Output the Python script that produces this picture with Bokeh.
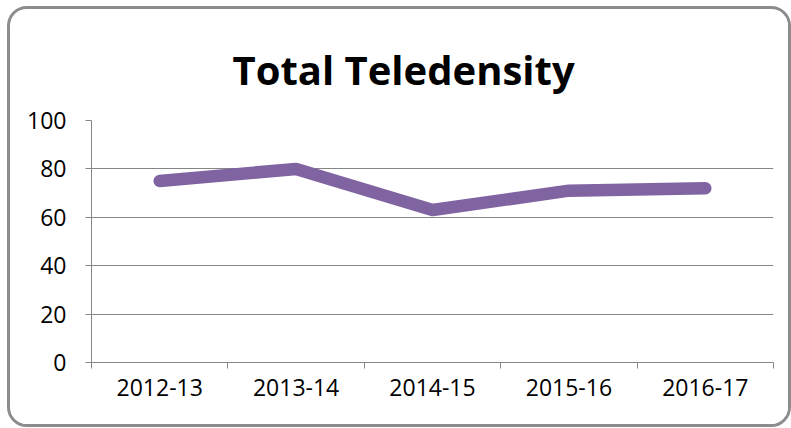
from bokeh.plotting import figure
from bokeh.models import Range1d, LinearAxis, FixedTicker, Title, Grid
from bokeh.embed import file_html
from bokeh.resources import INLINE

# ---- data ----
categories = ["2012-13", "2013-14", "2014-15", "2015-16", "2016-17"]
teledensity = [75, 80, 63, 71, 72]
y_ticks = [0, 20, 40, 60, 80, 100]
title_text = "Total Teledensity"

FONT = "Open Sans"
GRAY = "#868686"
PURPLE = "#8064A2"

n = len(categories)
xs = [i + 0.5 for i in range(n)]
boundaries = list(range(n + 1))

p = figure(width=784, height=421, output_backend="svg", toolbar_location=None,
           x_range=Range1d(0, n), y_range=Range1d(0, 100),
           x_axis_type=None, y_axis_type=None,
           min_border_left=81, min_border_right=21, min_border_top=111,
           min_border_bottom=68)
p.margin = (6, 0, 0, 7)
p.outline_line_color = None
p.background_fill_color = "white"
p.border_fill_color = "white"
p.styles = {"border": "3px solid #8c8c8c", "border-radius": "20px",
            "overflow": "hidden"}

# title
p.title = Title(text=title_text, text_font=FONT, text_font_size="40px",
                text_font_style="bold", text_color="black", align="left",
                standoff=48, offset=141)

# y axis
yax = LinearAxis(ticker=FixedTicker(ticks=y_ticks))
yax.axis_line_color = GRAY
yax.major_tick_line_color = GRAY
yax.major_tick_out = 6
yax.major_tick_in = 0
yax.minor_tick_line_color = None
yax.major_label_text_font = FONT
yax.major_label_text_font_size = "23px"
yax.major_label_text_color = "black"
yax.major_label_standoff = 19
p.add_layout(yax, "left")

# x axis: labels at category centres, ticks at category boundaries
xax = LinearAxis(ticker=FixedTicker(ticks=xs, minor_ticks=boundaries))
xax.major_label_overrides = {x: c for x, c in zip(xs, categories)}
xax.axis_line_color = GRAY
xax.major_tick_line_color = None
xax.major_tick_out = 0
xax.major_tick_in = 0
xax.minor_tick_line_color = GRAY
xax.minor_tick_out = 6
xax.minor_tick_in = 0
xax.major_label_text_font = FONT
xax.major_label_text_font_size = "23px"
xax.major_label_text_color = "black"
xax.major_label_standoff = 10
p.add_layout(xax, "below")

# grid
p.add_layout(Grid(dimension=1, ticker=yax.ticker, grid_line_color=GRAY,
                  grid_line_width=1.2))

p.line(xs, teledensity, line_color=PURPLE, line_width=12.5,
       line_cap="round", line_join="round")

open("out.html", "w").write(file_html(p, INLINE))
